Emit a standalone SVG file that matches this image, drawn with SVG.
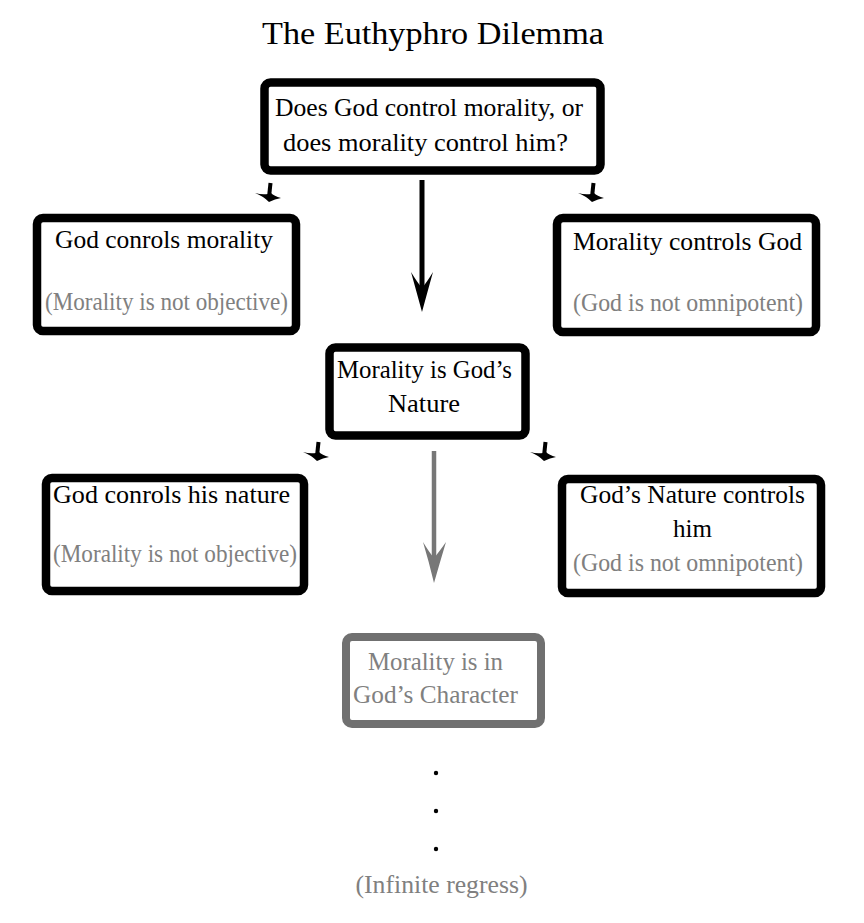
<svg xmlns="http://www.w3.org/2000/svg" width="864" height="923" viewBox="0 0 864 923">
<defs>
<style>
text{font-family:"Liberation Serif","Times New Roman",serif;text-anchor:middle;fill:#000}
.t{font-size:25px}
.g{fill:#808080}
.title{font-size:32px}
.box{fill:#fff;stroke:#000;stroke-width:8.5}
.gbox{fill:#fff;stroke:#707070;stroke-width:8}
</style>
<g id="small">
<path d="M1.5,-16 L0,-2" stroke="#000" stroke-width="4" fill="none"/>
<path d="M-14,-6 Q-6,-3 0,3 Q6,0 12,-1 Q5,-3 2,-6 L-1,-5 Q-7,-4 -14,-6 Z" fill="#000"/>
</g>
</defs>
<rect width="864" height="923" fill="#fff"/>
<text class="title" x="433" y="44" textLength="342" lengthAdjust="spacingAndGlyphs">The Euthyphro Dilemma</text>

<g id="connectors">
<line x1="422" y1="180" x2="422" y2="290" stroke="#000" stroke-width="5"/>
<path d="M422,312 Q416,290 411,272 Q417,282 422,288 Q427,282 433,272 Q428,290 422,312 Z" fill="#000"/>
<line x1="434" y1="451" x2="434" y2="560" stroke="#777" stroke-width="4.5"/>
<path d="M434,583 Q429,562 423,542 Q429,552 434,558 Q439,552 446,542 Q440,562 434,583 Z" fill="#777"/>
<use href="#small" x="269" y="199"/>
<use href="#small" x="592" y="199"/>
<use href="#small" x="317" y="458"/>
<use href="#small" x="544" y="458"/>
</g>

<g id="n-question">
<rect class="box" x="264.5" y="82.5" width="336" height="88" rx="6" stroke-width="9"/>
<text class="t" x="429" y="116" font-size="26" textLength="308" lengthAdjust="spacingAndGlyphs">Does God control morality, or</text>
<text class="t" x="425.5" y="151" font-size="26" textLength="285" lengthAdjust="spacingAndGlyphs">does morality control him?</text>
</g>

<g id="n-god-controls">
<rect class="box" x="37" y="218" width="259" height="113" rx="6"/>
<text class="t" x="164" y="248" textLength="218" lengthAdjust="spacingAndGlyphs">God conrols morality</text>
<text class="t g" x="166.5" y="310" textLength="243" lengthAdjust="spacingAndGlyphs">(Morality is not objective)</text>
</g>

<g id="n-morality-controls">
<rect class="box" x="557" y="218" width="259" height="114" rx="6"/>
<text class="t" x="687.5" y="250" textLength="229" lengthAdjust="spacingAndGlyphs">Morality controls God</text>
<text class="t g" x="688" y="311" textLength="230" lengthAdjust="spacingAndGlyphs">(God is not omnipotent)</text>
</g>

<g id="n-nature">
<rect class="box" x="329.5" y="347.5" width="196" height="88" rx="6" stroke-width="9"/>
<text class="t" x="424.5" y="378" textLength="175" lengthAdjust="spacingAndGlyphs">Morality is God’s</text>
<text class="t" x="424" y="412" textLength="72" lengthAdjust="spacingAndGlyphs">Nature</text>
</g>

<g id="n-god-controls-nature">
<rect class="box" x="46" y="478" width="258" height="113" rx="6"/>
<text class="t" x="171.5" y="503" textLength="237" lengthAdjust="spacingAndGlyphs">God conrols his nature</text>
<text class="t g" x="175" y="562" textLength="244" lengthAdjust="spacingAndGlyphs">(Morality is not objective)</text>
</g>

<g id="n-nature-controls">
<rect class="box" x="562" y="479" width="259" height="114" rx="6"/>
<text class="t" x="692.5" y="503" textLength="225" lengthAdjust="spacingAndGlyphs">God’s Nature controls</text>
<text class="t" x="692.5" y="537" textLength="39" lengthAdjust="spacingAndGlyphs">him</text>
<text class="t g" x="688" y="571" textLength="230" lengthAdjust="spacingAndGlyphs">(God is not omnipotent)</text>
</g>

<g id="n-character">
<rect class="gbox" x="346" y="637" width="195" height="87" rx="6"/>
<text class="t g" x="435.5" y="670" textLength="135" lengthAdjust="spacingAndGlyphs">Morality is in</text>
<text class="t g" x="435.5" y="703" textLength="165" lengthAdjust="spacingAndGlyphs">God’s Character</text>
</g>

<g id="n-regress">
<circle cx="436" cy="773" r="2.2" fill="#000"/>
<circle cx="436" cy="811" r="2.2" fill="#000"/>
<circle cx="436" cy="849" r="2.2" fill="#000"/>
<text class="t g" x="441.5" y="893" textLength="172" lengthAdjust="spacingAndGlyphs">(Infinite regress)</text>
</g>
</svg>
